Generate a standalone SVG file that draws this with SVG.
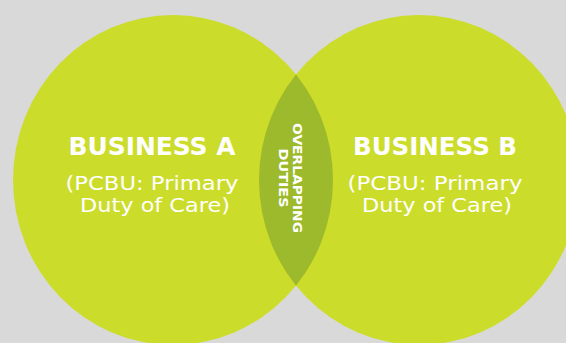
<svg xmlns="http://www.w3.org/2000/svg" width="566" height="343" viewBox="0 0 566 343">
<defs>
<style>
.circ{fill:#ccdc2b}
.lens{fill:#9dba2d}
.t{fill:#ffffff;font-family:"DejaVu Sans","Liberation Sans",sans-serif;text-anchor:middle}
.h{font-weight:bold;font-size:24px}
.s{font-size:20px}
.o{font-weight:bold;font-size:12px}
</style>
<clipPath id="clipA"><ellipse cx="173" cy="180" rx="160" ry="165"/></clipPath>
</defs>
<rect width="566" height="343" fill="#d9d9d9"/>
<g id="businessA">
<ellipse class="circ" cx="173" cy="180" rx="160" ry="165"/>
</g>
<g id="businessB">
<ellipse class="circ" cx="419" cy="180" rx="160" ry="165"/>
</g>
<g id="overlap">
<ellipse class="lens" cx="419" cy="180" rx="160" ry="165" clip-path="url(#clipA)"/>
<g transform="translate(293,178) rotate(90)">
<text class="t o" x="0" y="0" textLength="110" lengthAdjust="spacingAndGlyphs">OVERLAPPING</text>
<text class="t o" x="0" y="14" textLength="59" lengthAdjust="spacingAndGlyphs">DUTIES</text>
</g>
</g>
<g id="labelA">
<text class="t h" x="152" y="155" textLength="167" lengthAdjust="spacingAndGlyphs">BUSINESS A</text>
<text class="t s" x="152" y="190" textLength="173" lengthAdjust="spacingAndGlyphs">(PCBU: Primary</text>
<text class="t s" x="155" y="212" textLength="150" lengthAdjust="spacingAndGlyphs">Duty of Care)</text>
</g>
<g id="labelB">
<text class="t h" x="435" y="155" textLength="164" lengthAdjust="spacingAndGlyphs">BUSINESS B</text>
<text class="t s" x="435" y="190" textLength="175" lengthAdjust="spacingAndGlyphs">(PCBU: Primary</text>
<text class="t s" x="437" y="212" textLength="150" lengthAdjust="spacingAndGlyphs">Duty of Care)</text>
</g>
<g id="connectors"/>
</svg>
